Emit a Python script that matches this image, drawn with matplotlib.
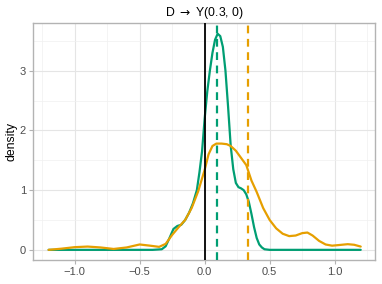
import matplotlib
matplotlib.use("Agg")
import matplotlib.pyplot as plt
from matplotlib.ticker import MultipleLocator

plt.rcParams['font.family'] = ['Liberation Sans', 'DejaVu Sans']
plt.rcParams['mathtext.fontset'] = 'dejavusans'

title = "D $\\rightarrow$ Y(0.3, 0)"
ylabel = "density"

green_x = [-1.2, -0.4, -0.33, -0.3, -0.27, -0.24, -0.21, -0.18, -0.15, -0.12, -0.09, -0.06,
           -0.04, -0.02, 0.0, 0.02, 0.04, 0.06, 0.08, 0.1, 0.12, 0.14, 0.16, 0.18, 0.2,
           0.22, 0.24, 0.26, 0.28, 0.30, 0.32, 0.34, 0.36, 0.38, 0.40, 0.42, 0.44, 0.46, 0.5, 1.2]
green_y = [0, 0, 0.01, 0.06, 0.2, 0.35, 0.4, 0.42, 0.5, 0.62, 0.78, 1.0,
           1.3, 1.65, 2.2, 2.65, 3.0, 3.3, 3.52, 3.62, 3.58, 3.4, 3.0, 2.4, 1.75,
           1.35, 1.12, 1.05, 1.03, 1.0, 0.93, 0.8, 0.6, 0.38, 0.2, 0.09, 0.04, 0.01, 0, 0]

orange_x = [-1.2, -1.1, -1.0, -0.9, -0.8, -0.7, -0.6, -0.5, -0.42, -0.35, -0.3, -0.25, -0.2,
            -0.15, -0.1, -0.05, 0.0, 0.03, 0.06, 0.09, 0.13, 0.17, 0.2, 0.24, 0.28, 0.32,
            0.36, 0.40, 0.45, 0.5, 0.55, 0.6, 0.65, 0.7, 0.75, 0.79, 0.83, 0.88, 0.93, 0.98,
            1.03, 1.1, 1.15, 1.2]
orange_y = [0, 0.02, 0.045, 0.055, 0.04, 0.015, 0.04, 0.09, 0.07, 0.05, 0.1, 0.25, 0.38,
            0.5, 0.7, 0.98, 1.34, 1.6, 1.74, 1.78, 1.78, 1.77, 1.74, 1.66, 1.54, 1.42,
            1.16, 0.97, 0.7, 0.5, 0.36, 0.27, 0.23, 0.24, 0.28, 0.29, 0.24, 0.15, 0.09, 0.07,
            0.08, 0.095, 0.085, 0.055]

green_mean = 0.095
orange_mean = 0.335
zero_line = 0.0

green = "#009E73"
orange = "#E69F00"

fig = plt.figure(figsize=(3.82, 2.84), dpi=100)
ax = fig.add_axes([0.0864, 0.0845, 0.8953, 0.8345])

ax.plot(green_x, green_y, color=green, lw=1.6, solid_capstyle='round', zorder=3)
ax.plot(orange_x, orange_y, color=orange, lw=1.6, solid_capstyle='round', zorder=3)
ax.axvline(zero_line, color='black', lw=1.3, zorder=4)
ax.axvline(green_mean, color=green, lw=1.6, ls=(0, (3.5, 2.5)), zorder=4)
ax.axvline(orange_mean, color=orange, lw=1.6, ls=(0, (3.5, 2.5)), zorder=4)

ax.set_xlim(-1.32, 1.31)
ax.set_ylim(-0.17, 3.80)
ax.xaxis.set_major_locator(MultipleLocator(0.5))
ax.xaxis.set_minor_locator(MultipleLocator(0.25))
ax.yaxis.set_major_locator(MultipleLocator(1))
ax.yaxis.set_minor_locator(MultipleLocator(0.5))
xt = [-1.0, -0.5, 0.0, 0.5, 1.0]
ax.set_xticks(xt)
ax.set_xticklabels(["\u22121.0", "\u22120.5", "0.0", "0.5", "1.0"])
ax.set_yticks([0, 1, 2, 3])
ax.set_yticklabels(["0", "1", "2", "3"])

ax.grid(which='major', color='#E5E5E5', lw=0.8)
ax.grid(which='minor', color='#F0F0F0', lw=0.5)
ax.set_axisbelow(True)
for s in ax.spines.values():
    s.set_color('#B3B3B3')
    s.set_linewidth(1.0)
ax.tick_params(which='major', length=3, color='#B3B3B3', labelsize=8, labelcolor='#4D4D4D', pad=2)
ax.tick_params(which='minor', length=0)

ax.set_title(title, fontsize=8.8, color='black', pad=5)
ax.set_ylabel(ylabel, fontsize=8.8, labelpad=2)

fig.savefig("out.png", dpi=100)
